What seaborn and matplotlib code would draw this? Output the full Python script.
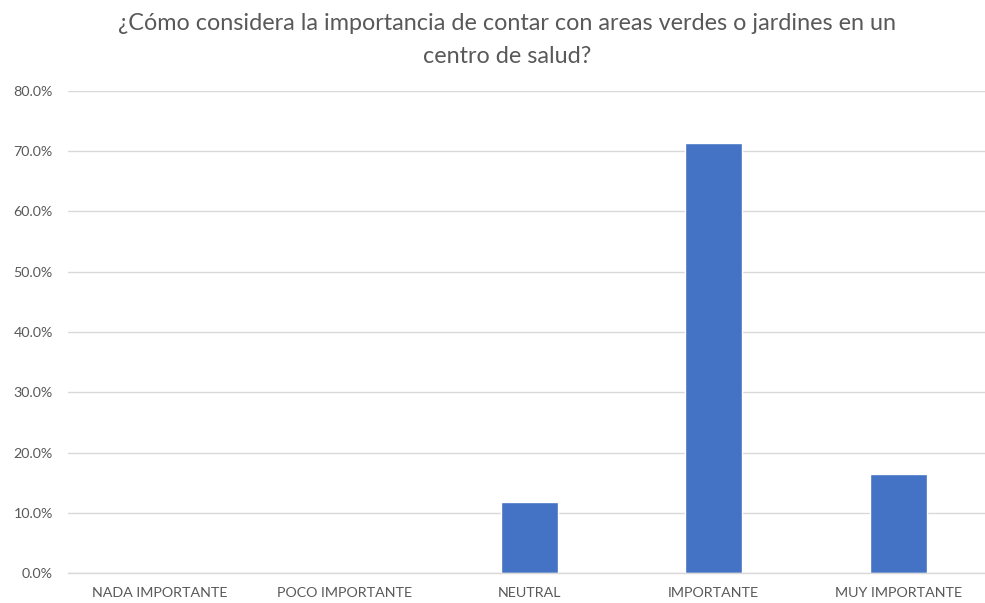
import matplotlib
matplotlib.use("Agg")
import matplotlib.pyplot as plt
from matplotlib.ticker import FuncFormatter
import seaborn as sns
import pandas as pd

# --- Data ---
categories = ["NADA IMPORTANTE", "POCO IMPORTANTE", "NEUTRAL", "IMPORTANTE", "MUY IMPORTANTE"]
percentages = [0.0, 0.0, 11.9, 71.4, 16.4]
y_ticks = [0, 10, 20, 30, 40, 50, 60, 70, 80]
title = "¿Cómo considera la importancia de contar con areas verdes o jardines en un\ncentro de salud?"

# --- Style ---
sns.set_theme(style="white")
plt.rcParams['font.family'] = ['Lato', 'DejaVu Sans']

BAR_COLOR = "#4472C4"
GRID_COLOR = "#D9D9D9"
TEXT_COLOR = "#595959"

df = pd.DataFrame({"categoria": categories, "porcentaje": percentages})

W, H = 985, 603
fig = plt.figure(figsize=(W / 100, H / 100), dpi=100)
ax = fig.add_axes([68 / W, (H - 573.3) / H, 922.5 / W, (573.3 - 90.7) / H])

sns.barplot(data=df, x="categoria", y="porcentaje", color=BAR_COLOR,
            width=0.31, saturation=1, ax=ax)

ax.set_xlim(-0.5, len(categories) - 0.5)
ax.set_ylim(0, 80)
ax.set_yticks(y_ticks)
ax.yaxis.set_major_formatter(FuncFormatter(lambda v, _: f"{v:.1f}%"))
ax.yaxis.grid(True, color=GRID_COLOR, linewidth=1)
ax.set_axisbelow(True)

for side in ["top", "right", "left"]:
    ax.spines[side].set_visible(False)
ax.spines["bottom"].set_color(GRID_COLOR)
ax.spines["bottom"].set_linewidth(1)

ax.tick_params(axis="both", length=0, colors=TEXT_COLOR, labelsize=10.3)
ax.tick_params(axis="y", pad=11)
ax.tick_params(axis="x", pad=10)
ax.set_xlabel("")
ax.set_ylabel("")

fig.text(507 / W, 1 - 40 / H, title, ha="center", va="center",
         fontsize=16.8, color=TEXT_COLOR, linespacing=1.75)

fig.savefig("out.png", dpi=100)
